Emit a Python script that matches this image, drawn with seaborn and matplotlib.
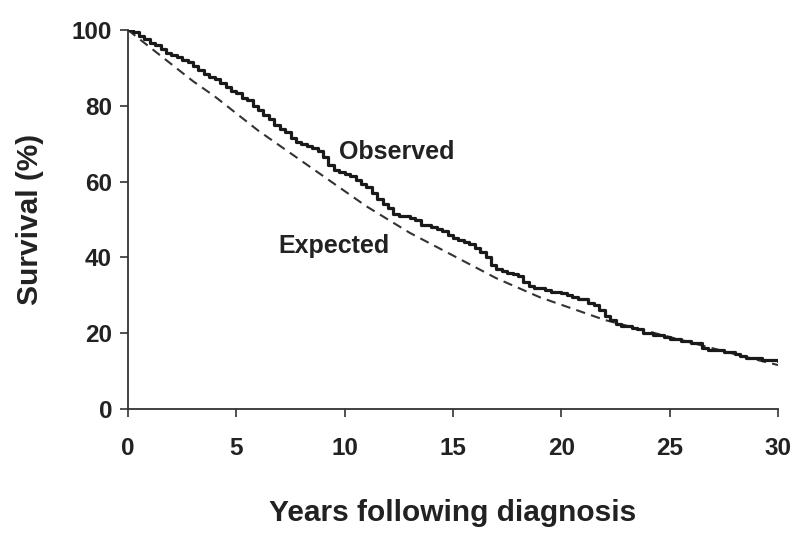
import numpy as np
import pandas as pd
import matplotlib
matplotlib.use("Agg")
import matplotlib.pyplot as plt
import seaborn as sns

# observed survival (%) read every quarter year from 0 to 30 (step curve)
obs_years = np.arange(0, 30.25, 0.25)
obs_surv = [100, 99.5, 98.5, 97.5, 96.5, 96, 95, 94, 93.5, 93, 92, 91.5,
            90.5, 89.5, 88.5, 87.5, 87, 86, 85, 84, 83.5, 82, 81.5, 80,
            79, 77.5, 76.5, 75, 74, 73, 71.5, 70.5, 70, 69.5, 69, 68,
            66.5, 64.5, 63, 62.5, 62, 61.5, 60.5, 59.5, 58.5, 57, 55.5, 54,
            53, 51.5, 51, 51, 50.5, 50, 48.5, 48.5, 48, 47.5, 47, 46,
            45, 44.5, 44, 43.5, 42.5, 41.5, 40, 38, 37, 36.5, 36, 35.5,
            35, 33.5, 32.5, 32, 32, 31.5, 31, 30.8, 30.5, 30, 29.5, 29,
            29, 28, 27.5, 26, 24.5, 23.5, 22.5, 22, 22, 21.5, 21, 20,
            20, 19.5, 19.5, 19, 18.5, 18.5, 18, 18, 17.5, 17.5, 16, 15.5,
            15.5, 15.5, 15, 15, 14.5, 14, 13.5, 13.5, 13.5, 13, 13, 12.8,
            12.7]

# expected survival (%), yearly
exp_years = list(range(0, 31))
exp_surv = [100, 95.5, 91, 86.5, 82.5, 78, 73.5, 69.5, 65.5, 61.5, 57.5, 53.5,
            50, 46.5, 43.5, 40.5, 37.5, 34.5, 32, 29.5, 27.5, 25.5, 23.5, 22,
            20.5, 19, 17.5, 16, 14.5, 13, 11.6]

obs = pd.DataFrame({"years": obs_years, "survival": obs_surv})
exp = pd.DataFrame({"years": exp_years, "survival": exp_surv})

sns.set_theme(style="white")
plt.rcParams['font.family'] = ['Liberation Sans', 'DejaVu Sans']
plt.rcParams['font.weight'] = 'bold'

fig = plt.figure(figsize=(8, 5.41), dpi=100)
ax = fig.add_axes([0.16, 0.244, 0.8125, 0.7005])

sns.lineplot(data=exp, x="years", y="survival", ax=ax, color="#333333",
             linewidth=1.5, linestyle=(0, (4.5, 3)))
sns.lineplot(data=obs, x="years", y="survival", ax=ax, color="#1a1a1a",
             linewidth=2.3, drawstyle="steps-post")

ax.set_xlim(0, 30)
ax.set_ylim(0, 100)
ax.set_xticks([0, 5, 10, 15, 20, 25, 30])
ax.set_yticks([0, 20, 40, 60, 80, 100])
ax.tick_params(axis="both", direction="out", length=5.5, width=1.2,
               color="#333333", labelsize=17.5, left=True, bottom=True)
ax.tick_params(axis="x", pad=15)
ax.tick_params(axis="y", pad=6)
for lab in ax.get_xticklabels() + ax.get_yticklabels():
    lab.set_fontweight("bold")
    lab.set_color("#222222")

sns.despine(ax=ax)
for s in ["left", "bottom"]:
    ax.spines[s].set_color("#333333")
    ax.spines[s].set_linewidth(1.3)

ax.set_xlabel("Years following diagnosis", fontsize=21.5, fontweight="bold",
              color="#222222", labelpad=28)
ax.set_ylabel("Survival (%)", fontsize=21.5, fontweight="bold",
              color="#222222", labelpad=20)

ax.text(9.75, 67.7, "Observed", fontsize=18, fontweight="bold",
        color="#222222", va="center")
ax.text(6.95, 43, "Expected", fontsize=18, fontweight="bold",
        color="#222222", va="center")

fig.savefig("out.png", dpi=100, facecolor="white")
